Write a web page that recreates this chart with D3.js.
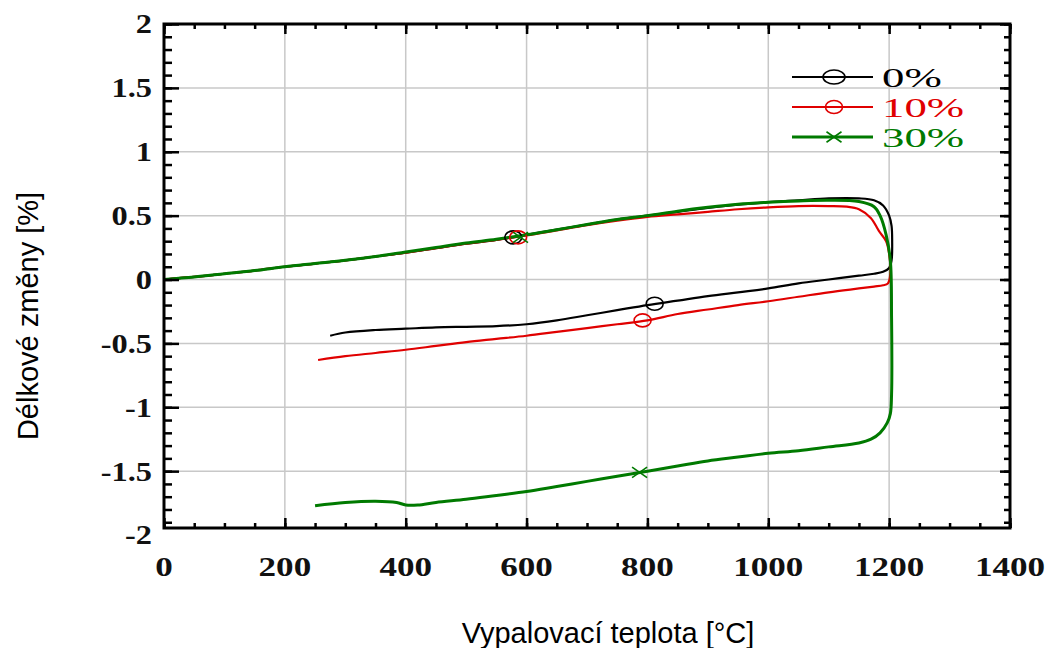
<!DOCTYPE html>
<html>
<head>
<meta charset="utf-8">
<script src="https://cdn.jsdelivr.net/npm/d3@7"></script>
<style>
  html, body { margin: 0; padding: 0; background: #fff; }
  svg { display: block; }
  .tick-label text { font-family: "Liberation Serif", "Times New Roman", serif; font-size: 27px; font-weight: bold; fill: #111; }
  .title { font-family: "Liberation Sans", Arial, sans-serif; font-size: 29px; fill: #000; }
  .legend text { font-family: "Liberation Serif", "Times New Roman", serif; font-size: 28px; }
</style>
</head>
<body>
<svg id="chart" width="1054" height="648"></svg>
<script>
// Dilatometric curves: heating from room temperature to 1200 °C, then cooling.
const seriesNames = ["0%", "10%", "30%"];
const seriesColors = ["#000000", "#e00000", "#007a00"];
const seriesWidths = [2.2, 2.2, 3];
const seriesMarkers = ["circle", "circle", "cross"];

// 0 % additive
const temp0 = [0, 50, 100, 150, 200, 250, 300, 350, 400, 450, 500, 550, 600, 650, 700, 750, 800, 850, 900, 950,
  1000, 1050, 1100, 1150, 1175, 1190, 1200, 1204, 1205, 1204, 1200, 1190, 1175, 1150, 1100, 1050, 1000, 950,
  900, 850, 800, 750, 700, 650, 600, 550, 500, 450, 400, 350, 300, 275];
const dl0 = [0, 0.02, 0.045, 0.07, 0.1, 0.125, 0.15, 0.18, 0.21, 0.245, 0.28, 0.31, 0.35, 0.39, 0.43, 0.47, 0.5, 0.53, 0.56, 0.585,
  0.605, 0.62, 0.635, 0.635, 0.62, 0.58, 0.5, 0.42, 0.3, 0.15, 0.09, 0.06, 0.045, 0.03, 0.0, -0.03, -0.07, -0.1,
  -0.13, -0.165, -0.2, -0.24, -0.28, -0.32, -0.35, -0.365, -0.37, -0.375, -0.385, -0.395, -0.415, -0.44];

// 10 % additive
const temp10 = [0, 50, 100, 150, 200, 250, 300, 350, 400, 450, 500, 550, 600, 650, 700, 750, 800, 850, 900, 950,
  1000, 1050, 1100, 1130, 1150, 1170, 1183, 1195, 1200, 1202, 1198, 1190, 1175, 1150, 1100, 1050, 1000, 950,
  900, 850, 800, 750, 700, 650, 600, 550, 500, 450, 400, 350, 300, 255];
const dl10 = [0, 0.02, 0.045, 0.07, 0.1, 0.125, 0.15, 0.18, 0.21, 0.245, 0.28, 0.31, 0.345, 0.385, 0.425, 0.46, 0.49, 0.51, 0.53, 0.55,
  0.565, 0.575, 0.575, 0.57, 0.55, 0.48, 0.38, 0.3, 0.2, 0.05, -0.03, -0.045, -0.055, -0.07, -0.1, -0.135, -0.17, -0.2,
  -0.235, -0.27, -0.32, -0.35, -0.38, -0.41, -0.44, -0.465, -0.49, -0.52, -0.55, -0.575, -0.6, -0.63];

// 30 % additive
const temp30 = [0, 50, 100, 150, 200, 250, 300, 350, 400, 450, 500, 550, 600, 650, 700, 750, 800, 850, 900, 950,
  1000, 1050, 1100, 1150, 1175, 1185, 1195, 1202, 1204, 1204, 1202, 1197, 1185, 1170, 1150, 1100, 1050, 1000,
  950, 900, 850, 800, 750, 700, 650, 600, 550, 500, 450, 420, 400, 385, 350, 300, 250];
const dl30 = [0, 0.02, 0.045, 0.07, 0.1, 0.125, 0.15, 0.18, 0.215, 0.25, 0.285, 0.315, 0.35, 0.39, 0.43, 0.47, 0.5, 0.535, 0.565, 0.59,
  0.605, 0.615, 0.62, 0.61, 0.57, 0.5, 0.35, 0.15, -0.3, -0.9, -1.05, -1.12, -1.2, -1.25, -1.28, -1.31, -1.34, -1.36,
  -1.39, -1.42, -1.46, -1.5, -1.54, -1.58, -1.62, -1.66, -1.69, -1.72, -1.745, -1.765, -1.765, -1.745, -1.735, -1.745, -1.77];

// marker positions on each curve (heating branch, cooling branch)
const markT0 = [578, 812], markV0 = [0.33, -0.19];
const markT10 = [586, 792], markV10 = [0.33, -0.32];
const markT30 = [590, 787], markV30 = [0.33, -1.51];

const xTicks = [0, 200, 400, 600, 800, 1000, 1200, 1400];
const yTicks = [2, 1.5, 1, 0.5, 0, -0.5, -1, -1.5, -2];

const series = [
  { name: seriesNames[0], color: seriesColors[0], width: seriesWidths[0], marker: seriesMarkers[0], t: temp0, v: dl0, mt: markT0, mv: markV0 },
  { name: seriesNames[1], color: seriesColors[1], width: seriesWidths[1], marker: seriesMarkers[1], t: temp10, v: dl10, mt: markT10, mv: markV10 },
  { name: seriesNames[2], color: seriesColors[2], width: seriesWidths[2], marker: seriesMarkers[2], t: temp30, v: dl30, mt: markT30, mv: markV30 }
];

const frame = { left: 164, right: 1010, top: 24, bottom: 528 };
const yLow = -1.945;

const svg = d3.select("#chart");
const x = d3.scaleLinear().domain([0, 1400]).range([frame.left, frame.right]);
const y = d3.scaleLinear().domain([yLow, 2]).range([frame.bottom, frame.top]);

// grid
const grid = svg.append("g");
grid.selectAll("line.gx").data(d3.range(200, 1400, 200)).join("line")
  .attr("x1", d => x(d)).attr("x2", d => x(d))
  .attr("y1", frame.top).attr("y2", frame.bottom)
  .attr("stroke", "#c8c8c8").attr("stroke-width", 1.5);
grid.selectAll("line.gy").data([1.5, 1, 0.5, 0, -0.5, -1, -1.5]).join("line")
  .attr("y1", d => y(d)).attr("y2", d => y(d))
  .attr("x1", frame.left).attr("x2", frame.right)
  .attr("stroke", "#c8c8c8").attr("stroke-width", 1.5);

// curves
const line = d3.line().x(d => x(d[0])).y(d => y(d[1])).curve(d3.curveCatmullRom.alpha(0.5));
const plot = svg.append("g");
series.forEach(s => {
  const pts = s.t.map((t, i) => [t, s.v[i]]);
  plot.append("path").datum(pts)
    .attr("d", line)
    .attr("fill", "none")
    .attr("stroke", s.color)
    .attr("stroke-width", s.width)
    .attr("stroke-linejoin", "round");
});

function drawMarker(g, kind, cx, cy, color, big) {
  if (kind === "circle") {
    g.append("ellipse").attr("cx", cx).attr("cy", cy)
      .attr("rx", big ? 11 : 8.5).attr("ry", big ? 7 : 6.5)
      .attr("fill", "none").attr("stroke", color).attr("stroke-width", 1.6);
  } else {
    const r = 7.5;
    g.append("path")
      .attr("d", `M${cx - r},${cy - r * 0.7}L${cx + r},${cy + r * 0.7}M${cx - r},${cy + r * 0.7}L${cx + r},${cy - r * 0.7}`)
      .attr("stroke", color).attr("stroke-width", 1.6).attr("fill", "none");
  }
}
series.forEach(s => {
  s.mt.forEach((t, i) => drawMarker(plot, s.marker, x(t), y(s.mv[i]), s.color, false));
});

// frame ticks (inward on all four sides)
const xMinor = d3.range(0, 1401, 50);
const yMinor = d3.range(-19, 21, 1).map(d => d / 10);
const tickStyle = g => g.call(gg => gg.select(".domain").remove())
  .selectAll("line").attr("stroke", "#000").attr("stroke-width", 2.5);

svg.append("g").attr("transform", `translate(0,${frame.bottom})`)
  .call(d3.axisBottom(x).tickValues(xMinor).tickSize(-5).tickFormat("")).call(tickStyle);
svg.append("g").attr("transform", `translate(0,${frame.bottom})`)
  .call(d3.axisBottom(x).tickValues(xTicks).tickSize(-10).tickFormat("")).call(tickStyle);
svg.append("g").attr("transform", `translate(0,${frame.top})`)
  .call(d3.axisTop(x).tickValues(xMinor).tickSize(-5).tickFormat("")).call(tickStyle);
svg.append("g").attr("transform", `translate(0,${frame.top})`)
  .call(d3.axisTop(x).tickValues(xTicks).tickSize(-10).tickFormat("")).call(tickStyle);

svg.append("g").attr("transform", `translate(${frame.left},0)`)
  .call(d3.axisLeft(y).tickValues(yMinor).tickSize(-8).tickFormat("")).call(tickStyle);
svg.append("g").attr("transform", `translate(${frame.left},0)`)
  .call(d3.axisLeft(y).tickValues(yTicks.filter(v => v >= yLow)).tickSize(-15).tickFormat("")).call(tickStyle);
svg.append("g").attr("transform", `translate(${frame.right},0)`)
  .call(d3.axisRight(y).tickValues(yMinor).tickSize(-6).tickFormat("")).call(tickStyle);
svg.append("g").attr("transform", `translate(${frame.right},0)`)
  .call(d3.axisRight(y).tickValues(yTicks.filter(v => v >= yLow)).tickSize(-10).tickFormat("")).call(tickStyle);

// frame
svg.append("rect")
  .attr("x", frame.left).attr("y", frame.top)
  .attr("width", frame.right - frame.left).attr("height", frame.bottom - frame.top)
  .attr("fill", "none").attr("stroke", "#000").attr("stroke-width", 3);

// tick labels (wide serif digits)
const sxX = 1.3, sxY = 1.2;
svg.append("g").attr("class", "tick-label").attr("transform", `translate(0,${frame.bottom + 39})`)
  .call(d3.axisBottom(x).tickValues(xTicks).tickSize(0).tickPadding(0).tickFormat(d => String(d)))
  .call(g => g.select(".domain").remove())
  .call(g => g.selectAll(".tick").attr("transform", d => `translate(${x(d)},0) scale(${sxX},1)`))
  .selectAll("text").attr("font-family", null).attr("font-size", null)
  .attr("y", 0).attr("dy", "0.35em");

svg.append("g").attr("class", "tick-label").attr("transform", `translate(${frame.left - 12},0)`)
  .call(d3.axisLeft(y).tickValues(yTicks).tickSize(0).tickPadding(0).tickFormat(d => String(d)))
  .call(g => g.select(".domain").remove())
  .call(g => g.selectAll(".tick").attr("transform", d => `translate(0,${y(d)}) scale(${sxY},1)`))
  .selectAll("text").attr("font-family", null).attr("font-size", null)
  .attr("x", 0).attr("dy", "0.35em");

// axis titles
svg.append("text").attr("class", "title")
  .attr("transform", `translate(28,${(frame.top + frame.bottom) / 2 + 40}) rotate(-90)`)
  .attr("text-anchor", "middle")
  .attr("dy", "0.35em")
  .text("Délkové změny [%]");
svg.append("text").attr("class", "title")
  .attr("x", 608).attr("y", 633)
  .attr("text-anchor", "middle")
  .attr("dy", "0.35em")
  .text("Vypalovací teplota [°C]");

// legend
const legend = svg.append("g").attr("class", "legend");
series.forEach((s, i) => {
  const ly = 77 + i * 30;
  legend.append("line").attr("x1", 792).attr("x2", 873).attr("y1", ly).attr("y2", ly)
    .attr("stroke", s.color).attr("stroke-width", s.width);
  drawMarker(legend, s.marker, 834, ly, s.color, i === 0);
  legend.append("text")
    .attr("transform", `translate(882,${ly}) scale(1.6,1)`)
    .attr("dy", "0.35em")
    .attr("fill", s.color)
    .text(s.name);
});
</script>
</body>
</html>
